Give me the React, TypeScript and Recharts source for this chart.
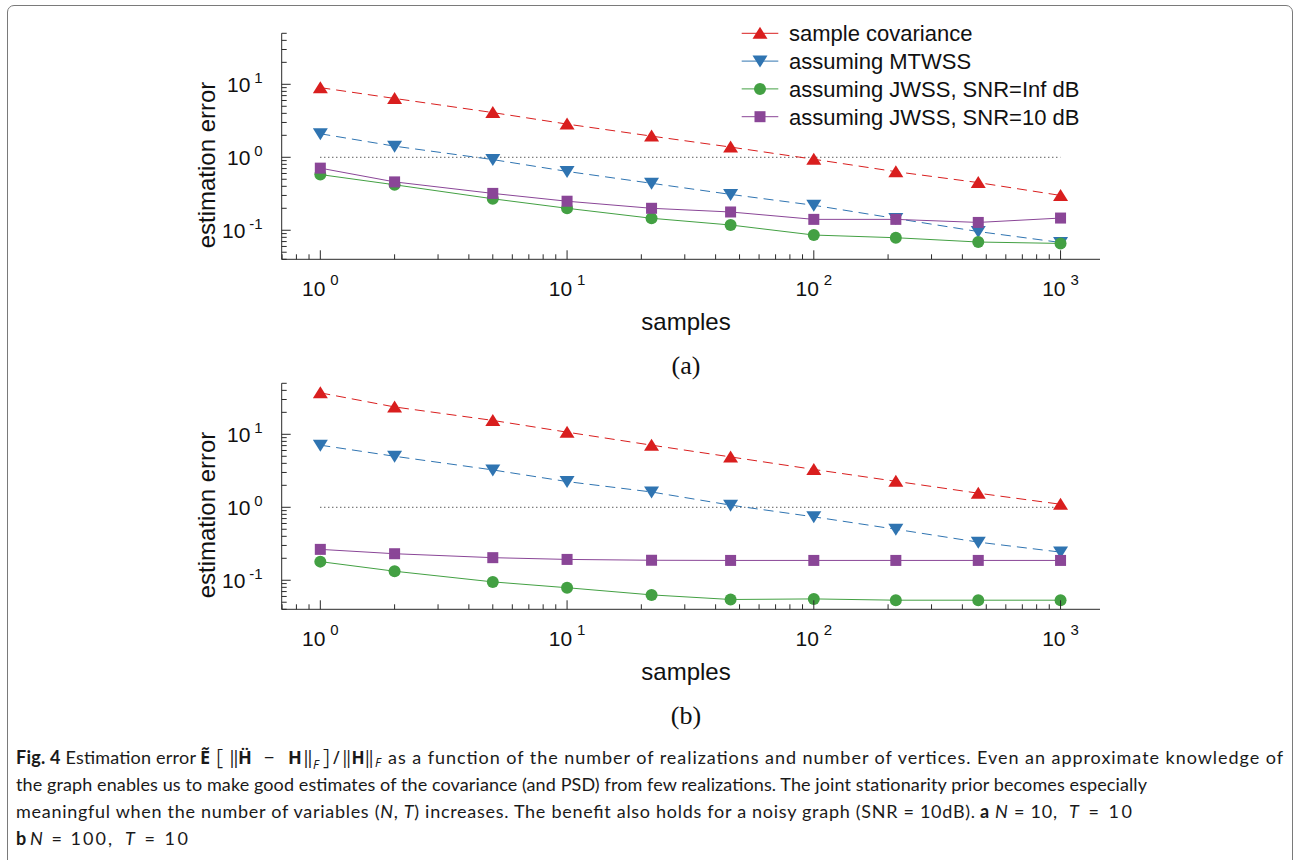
import React from "react";
import { LineChart, Line, XAxis, YAxis } from "recharts";

// number of realizations (x positions of every series)
const samples = [1, 2, 5, 10, 22, 46, 100, 215, 464, 1000];

const seriesNames = [
  "sample covariance",
  "assuming MTWSS",
  "assuming JWSS, SNR=Inf dB",
  "assuming JWSS, SNR=10 dB",
];

// (a) N = 10, T = 10
const aSampleCov = [9.0, 6.4, 4.1, 2.85, 1.95, 1.38, 0.94, 0.635, 0.45, 0.3];
const aMtwss = [2.1, 1.42, 0.93, 0.64, 0.44, 0.31, 0.22, 0.145, 0.096, 0.068];
const aJwssInf = [0.58, 0.42, 0.27, 0.2, 0.146, 0.118, 0.086, 0.079, 0.069, 0.066];
const aJwss10 = [0.71, 0.46, 0.32, 0.25, 0.2, 0.178, 0.141, 0.141, 0.128, 0.147];

// (b) N = 100, T = 10
const bSampleCov = [37, 23.7, 15.5, 10.7, 7.1, 4.9, 3.3, 2.27, 1.56, 1.1];
const bMtwss = [7.1, 5.0, 3.25, 2.25, 1.62, 1.07, 0.74, 0.5, 0.333, 0.243];
const bJwssInf = [0.18, 0.133, 0.095, 0.079, 0.063, 0.0545, 0.0555, 0.0533, 0.0533, 0.0533];
const bJwss10 = [0.265, 0.231, 0.204, 0.193, 0.188, 0.187, 0.187, 0.187, 0.187, 0.187];

// dotted reference level
const unityLevel = 1;

// axis decades (tick labels 10^k)
const xDecades = [-1, 0, 1, 2, 3];
const yDecades = [-2, -1, 0, 1];
const xDomain: [number, number] = [0.6974, 1445];
const yDomain: [number, number] = [0.04, 50];

const FONT = "'Liberation Sans', Arial, Helvetica, sans-serif";
const CAP_FONT = "Lato, 'Noto Sans', sans-serif";
const AXIS = "#2a2a2a";

const SERIES = [
  { key: "sc", color: "#d91e1e", marker: "up", dash: "10 6" },
  { key: "mt", color: "#2f74b1", marker: "down", dash: "10 6" },
  { key: "inf", color: "#43a043", marker: "circle", dash: undefined },
  { key: "snr", color: "#8a4697", marker: "square", dash: undefined },
];

function logTicks(decades: number[], [lo, hi]: [number, number]) {
  const out: number[] = [];
  decades.forEach((d) => {
    for (let m = 1; m <= 9; m++) {
      const v = Number((m * Math.pow(10, d)).toPrecision(6));
      if (v >= lo && v <= hi) out.push(v);
    }
  });
  return out;
}

const xTicks = logTicks(xDecades, xDomain);
const yTicks = logTicks(yDecades, yDomain);

const isMajor = (v: number) => Math.abs(Math.log10(v) - Math.round(Math.log10(v))) < 1e-9;

function buildRows(sc: number[], mt: number[], inf: number[], snr: number[]) {
  return samples.map((n, i) => ({ n, sc: sc[i], mt: mt[i], inf: inf[i], snr: snr[i], unity: unityLevel }));
}

const rowsA = buildRows(aSampleCov, aMtwss, aJwssInf, aJwss10);
const rowsB = buildRows(bSampleCov, bMtwss, bJwssInf, bJwss10);

function marker(kind: string, cx: number, cy: number, color: string, key?: string) {
  if (kind === "up") {
    return <polygon key={key} points={`${cx},${cy - 6.5} ${cx + 7.5},${cy + 5.5} ${cx - 7.5},${cy + 5.5}`} fill={color} />;
  }
  if (kind === "down") {
    return <polygon key={key} points={`${cx - 7.5},${cy - 5.5} ${cx + 7.5},${cy - 5.5} ${cx},${cy + 6.5}`} fill={color} />;
  }
  if (kind === "circle") return <circle key={key} cx={cx} cy={cy} r={6} fill={color} />;
  return <rect key={key} x={cx - 5.5} y={cy - 5.5} width={11} height={11} fill={color} />;
}

function XTick(props: any) {
  const { x, y, payload } = props;
  const v = payload.value;
  const major = isMajor(v);
  return (
    <g>
      <line x1={x} x2={x} y1={y} y2={y - (major ? 9 : 5)} stroke={AXIS} strokeWidth={1} />
      {major && (
        <text x={x} y={y + 37} textAnchor="middle" fontFamily={FONT} fontSize={21} fill="#111">
          10
          <tspan dx={5} dy={-11} fontSize={15}>{Math.round(Math.log10(v))}</tspan>
        </text>
      )}
    </g>
  );
}

function YTick(props: any) {
  const { x, y, payload } = props;
  const v = payload.value;
  const major = isMajor(v);
  return (
    <g>
      <line x1={x} x2={x + (major ? 9 : 5)} y1={y} y2={y} stroke={AXIS} strokeWidth={1} />
      {major && (
        <text x={x - 19} y={y + 7.5} textAnchor="end" fontFamily={FONT} fontSize={21} fill="#111">
          10
          <tspan dx={4} dy={-9} fontSize={15}>{Math.round(Math.log10(v))}</tspan>
        </text>
      )}
    </g>
  );
}

function Panel({ rows, top, letter, legend }: { rows: any[]; top: number; letter: string; legend?: boolean }) {
  return (
    <div style={{ position: "absolute", left: 0, top, width: 1294, height: 360 }}>
      <LineChart
        width={1294}
        height={360}
        data={rows}
        margin={{ top: 33.3, right: 194, bottom: 70.7, left: 221.7 }}
      >
        <XAxis
          dataKey="n"
          type="number"
          scale="log"
          domain={xDomain}
          allowDataOverflow
          ticks={xTicks}
          interval={0}
          tickSize={0}
          tickMargin={0}
          tickLine={false}
          axisLine={{ stroke: AXIS, strokeWidth: 1 }}
          tick={XTick}
          height={30}
        />
        <YAxis
          type="number"
          scale="log"
          domain={yDomain}
          allowDataOverflow
          ticks={yTicks}
          interval={0}
          tickSize={0}
          tickMargin={0}
          tickLine={false}
          axisLine={{ stroke: AXIS, strokeWidth: 1 }}
          tick={YTick}
          width={60}
        />
        <Line
          dataKey="unity"
          stroke="#111"
          strokeWidth={1}
          strokeDasharray="1 3"
          dot={false}
          activeDot={false}
          isAnimationActive={false}
        />
        {SERIES.map((s) => (
          <Line
            key={s.key}
            dataKey={s.key}
            type="linear"
            stroke={s.color}
            strokeWidth={1}
            strokeDasharray={s.dash}
            activeDot={false}
            isAnimationActive={false}
            dot={(p: any) => marker(s.marker, p.cx, p.cy, s.color, `${s.key}-${p.index}`)}
          />
        ))}
      </LineChart>
      <svg
        width={1294}
        height={400}
        style={{ position: "absolute", left: 0, top: 0, pointerEvents: "none", overflow: "visible" }}
      >
        <text
          transform="translate(215, 165) rotate(-90)"
          textAnchor="middle"
          fontFamily={FONT}
          fontSize={24}
          fill="#111"
        >
          estimation error
        </text>
        <text x={686} y={330} textAnchor="middle" fontFamily={FONT} fontSize={24} fill="#111">
          samples
        </text>
        <text x={686} y={374} textAnchor="middle" fontFamily="'Liberation Serif', 'Times New Roman', serif" fontSize={26} fill="#111">
          {letter}
        </text>
        {legend &&
          SERIES.map((s, i) => {
            const cy = 33.3 + i * 27.8;
            return (
              <g key={s.key}>
                <line x1={741.7} x2={778.3} y1={cy} y2={cy} stroke={s.color} strokeWidth={1} />
                {marker(s.marker, 760, cy, s.color)}
                <text x={789} y={cy + 7.8} fontFamily={FONT} fontSize={22} fill="#111">
                  {seriesNames[i]}
                </text>
              </g>
            );
          })}
      </svg>
    </div>
  );
}

function Caption() {
  const t = { fontFamily: CAP_FONT, fontSize: 18, fill: "#1a1a1a" } as const;
  const m = { fontFamily: "'Noto Sans', 'DejaVu Sans', sans-serif", fontSize: 18, fill: "#1a1a1a" } as const;
  return (
    <svg width={1294} height={120} style={{ position: "absolute", left: 0, top: 740 }}>
      {/* line 1 */}
      <text x={16} y={24} {...t} textLength={180} lengthAdjust="spacing">
        <tspan fontWeight="bold">Fig. 4</tspan> Estimation error
      </text>
      <text x={200} y={24} {...m} fontWeight="bold">Ẽ</text>
      <text x={216} y={25} {...m} fontSize={22} fontWeight="300">[</text>
      <text x={229} y={24} {...m}>‖</text>
      <text x={238} y={24} {...m} fontWeight="bold">Ḧ</text>
      <text x={264} y={24} {...m}>−</text>
      <text x={288} y={24} {...m} fontWeight="bold">H</text>
      <text x={303} y={24} {...m}>‖</text>
      <text x={313} y={29} {...m} fontSize={12} fontStyle="italic">F</text>
      <text x={323} y={25} {...m} fontSize={22} fontWeight="300">]</text>
      <text x={333} y={24} {...m}>/</text>
      <text x={342} y={24} {...m} textLength={32} lengthAdjust="spacingAndGlyphs">‖<tspan fontWeight="bold">H</tspan>‖</text>
      <text x={375} y={27} {...m} fontSize={12} fontStyle="italic">F</text>
      <text x={388} y={24} {...t} textLength={895} lengthAdjust="spacing">
        as a function of the number of realizations and number of vertices. Even an approximate knowledge of
      </text>
      {/* line 2 */}
      <text x={16} y={51} {...t} textLength={1131} lengthAdjust="spacing">
        the graph enables us to make good estimates of the covariance (and PSD) from few realizations. The joint stationarity prior becomes especially
      </text>
      {/* line 3 */}
      <text x={16} y={78} {...t} textLength={959} lengthAdjust="spacing">
        meaningful when the number of variables (<tspan fontStyle="italic">N</tspan>, <tspan fontStyle="italic">T</tspan>) increases. The benefit also holds for a noisy graph (SNR = 10dB).
      </text>
      <text x={980} y={78} {...t} fontWeight="bold">a</text>
      <text x={995} y={78} {...t} textLength={62} lengthAdjust="spacing">
        <tspan fontStyle="italic">N</tspan> = 10,
      </text>
      <text x={1069} y={78} {...t} textLength={63} lengthAdjust="spacing">
        <tspan fontStyle="italic">T</tspan> = 10
      </text>
      {/* line 4 */}
      <text x={16} y={105} {...t} fontWeight="bold">b</text>
      <text x={30} y={105} {...t} textLength={82} lengthAdjust="spacing">
        <tspan fontStyle="italic">N</tspan> = 100,
      </text>
      <text x={125} y={105} {...t} textLength={63} lengthAdjust="spacing">
        <tspan fontStyle="italic">T</tspan> = 10
      </text>
    </svg>
  );
}

export default function App() {
  return (
    <div style={{ position: "absolute", left: 0, top: 0, width: 1294, height: 860, background: "#fff", overflow: "hidden" }}>
      <div
        style={{
          position: "absolute",
          left: 7,
          top: 5,
          width: 1284,
          height: 900,
          border: "1.5px solid #7a7a7a",
          borderRadius: 7,
        }}
      />
      <Panel rows={rowsA} top={0} letter="(a)" legend />
      <Panel rows={rowsB} top={350} letter="(b)" />
      <Caption />
    </div>
  );
}
